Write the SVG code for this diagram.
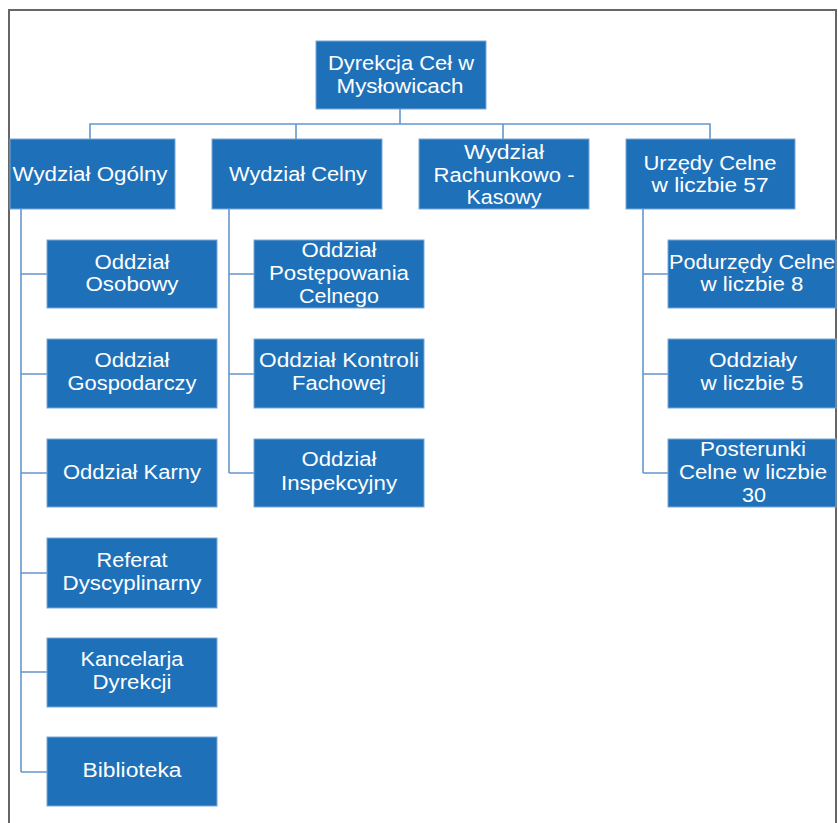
<svg xmlns="http://www.w3.org/2000/svg" width="838" height="823" viewBox="0 0 838 823">
<style>
.box{fill:#1E71B9;stroke:#78A8D8;stroke-width:1}
.t{font-family:"Liberation Sans",Arial,sans-serif;font-size:20px;fill:#FFFFFF;text-anchor:middle}
.c{fill:none;stroke:#6497CD;stroke-width:1.6}
</style>
<rect x="0" y="0" width="838" height="823" fill="#FFFFFF"/>
<rect x="9" y="10" width="827" height="830" fill="none" stroke="#666666" stroke-width="2"/>
<g id="connectors">
<path class="c" d="M400,109 V124 M90,139 V124 H710 V139 M296,124 V139 M503,124 V139"/>
<path class="c" d="M21,209 V772 M21,274 H47 M21,374 H47 M21,473 H47 M21,573 H47 M21,672 H47 M21,772 H47"/>
<path class="c" d="M229,209 V473 M229,274 H254 M229,374 H254 M229,473 H254"/>
<path class="c" d="M643,209 V473 M643,274 H668 M643,374 H668 M643,473 H668"/>
</g>
<g id="root"><rect class="box" x="316" y="41" width="170" height="68"/>
<text class="t" x="401" y="70" textLength="146" lengthAdjust="spacingAndGlyphs">Dyrekcja Ceł w</text>
<text class="t" x="400" y="93" textLength="127" lengthAdjust="spacingAndGlyphs">Mysłowicach</text></g>
<g id="wydzial-ogolny"><rect class="box" x="10" y="139" width="165" height="70"/>
<text class="t" x="90" y="181" textLength="155" lengthAdjust="spacingAndGlyphs">Wydział Ogólny</text></g>
<g id="wydzial-celny"><rect class="box" x="212" y="139" width="170" height="70"/>
<text class="t" x="298" y="181" textLength="138" lengthAdjust="spacingAndGlyphs">Wydział Celny</text></g>
<g id="wydzial-rachunkowo"><rect class="box" x="419" y="139" width="170" height="70"/>
<text class="t" x="504" y="159" textLength="80" lengthAdjust="spacingAndGlyphs">Wydział</text>
<text class="t" x="504" y="182" textLength="141" lengthAdjust="spacingAndGlyphs">Rachunkowo -</text>
<text class="t" x="504" y="204" textLength="75" lengthAdjust="spacingAndGlyphs">Kasowy</text></g>
<g id="urzedy-celne"><rect class="box" x="626" y="139" width="169" height="70"/>
<text class="t" x="710" y="170" textLength="133" lengthAdjust="spacingAndGlyphs">Urzędy Celne</text>
<text class="t" x="710" y="192" textLength="117" lengthAdjust="spacingAndGlyphs">w liczbie 57</text></g>
<g id="oddzial-osobowy"><rect class="box" x="47" y="240" width="170" height="68"/>
<text class="t" x="132" y="269" textLength="75" lengthAdjust="spacingAndGlyphs">Oddział</text>
<text class="t" x="132" y="291" textLength="93" lengthAdjust="spacingAndGlyphs">Osobowy</text></g>
<g id="oddzial-gospodarczy"><rect class="box" x="47" y="339" width="170" height="69"/>
<text class="t" x="132" y="367" textLength="75" lengthAdjust="spacingAndGlyphs">Oddział</text>
<text class="t" x="132" y="390" textLength="129" lengthAdjust="spacingAndGlyphs">Gospodarczy</text></g>
<g id="oddzial-karny"><rect class="box" x="47" y="439" width="170" height="68"/>
<text class="t" x="132" y="479" textLength="138" lengthAdjust="spacingAndGlyphs">Oddział Karny</text></g>
<g id="referat-dyscyplinarny"><rect class="box" x="47" y="538" width="170" height="70"/>
<text class="t" x="132" y="567" textLength="71" lengthAdjust="spacingAndGlyphs">Referat</text>
<text class="t" x="132" y="590" textLength="139" lengthAdjust="spacingAndGlyphs">Dyscyplinarny</text></g>
<g id="kancelarja-dyrekcji"><rect class="box" x="47" y="638" width="170" height="69"/>
<text class="t" x="132" y="666" textLength="103" lengthAdjust="spacingAndGlyphs">Kancelarja</text>
<text class="t" x="132" y="689" textLength="79" lengthAdjust="spacingAndGlyphs">Dyrekcji</text></g>
<g id="biblioteka"><rect class="box" x="47" y="737" width="170" height="69"/>
<text class="t" x="132" y="777" textLength="99" lengthAdjust="spacingAndGlyphs">Biblioteka</text></g>
<g id="oddzial-postepowania"><rect class="box" x="254" y="240" width="170" height="68"/>
<text class="t" x="339" y="257" textLength="75" lengthAdjust="spacingAndGlyphs">Oddział</text>
<text class="t" x="339" y="280" textLength="140" lengthAdjust="spacingAndGlyphs">Postępowania</text>
<text class="t" x="339" y="303" textLength="80" lengthAdjust="spacingAndGlyphs">Celnego</text></g>
<g id="oddzial-kontroli"><rect class="box" x="254" y="339" width="170" height="69"/>
<text class="t" x="339" y="367" textLength="160" lengthAdjust="spacingAndGlyphs">Oddział Kontroli</text>
<text class="t" x="339" y="390" textLength="94" lengthAdjust="spacingAndGlyphs">Fachowej</text></g>
<g id="oddzial-inspekcyjny"><rect class="box" x="254" y="439" width="170" height="68"/>
<text class="t" x="339" y="466" textLength="75" lengthAdjust="spacingAndGlyphs">Oddział</text>
<text class="t" x="339" y="490" textLength="116" lengthAdjust="spacingAndGlyphs">Inspekcyjny</text></g>
<g id="podurzedy"><rect class="box" x="668" y="240" width="168" height="68"/>
<text class="t" x="752" y="269" textLength="166" lengthAdjust="spacingAndGlyphs">Podurzędy Celne</text>
<text class="t" x="752" y="291" textLength="103" lengthAdjust="spacingAndGlyphs">w liczbie 8</text></g>
<g id="oddzialy"><rect class="box" x="668" y="339" width="168" height="69"/>
<text class="t" x="753" y="367" textLength="88" lengthAdjust="spacingAndGlyphs">Oddziały</text>
<text class="t" x="752" y="390" textLength="103" lengthAdjust="spacingAndGlyphs">w liczbie 5</text></g>
<g id="posterunki"><rect class="box" x="668" y="439" width="168" height="68"/>
<text class="t" x="753" y="456" textLength="106" lengthAdjust="spacingAndGlyphs">Posterunki</text>
<text class="t" x="753" y="479" textLength="148" lengthAdjust="spacingAndGlyphs">Celne w liczbie</text>
<text class="t" x="754" y="502" textLength="24" lengthAdjust="spacingAndGlyphs">30</text></g>
</svg>
